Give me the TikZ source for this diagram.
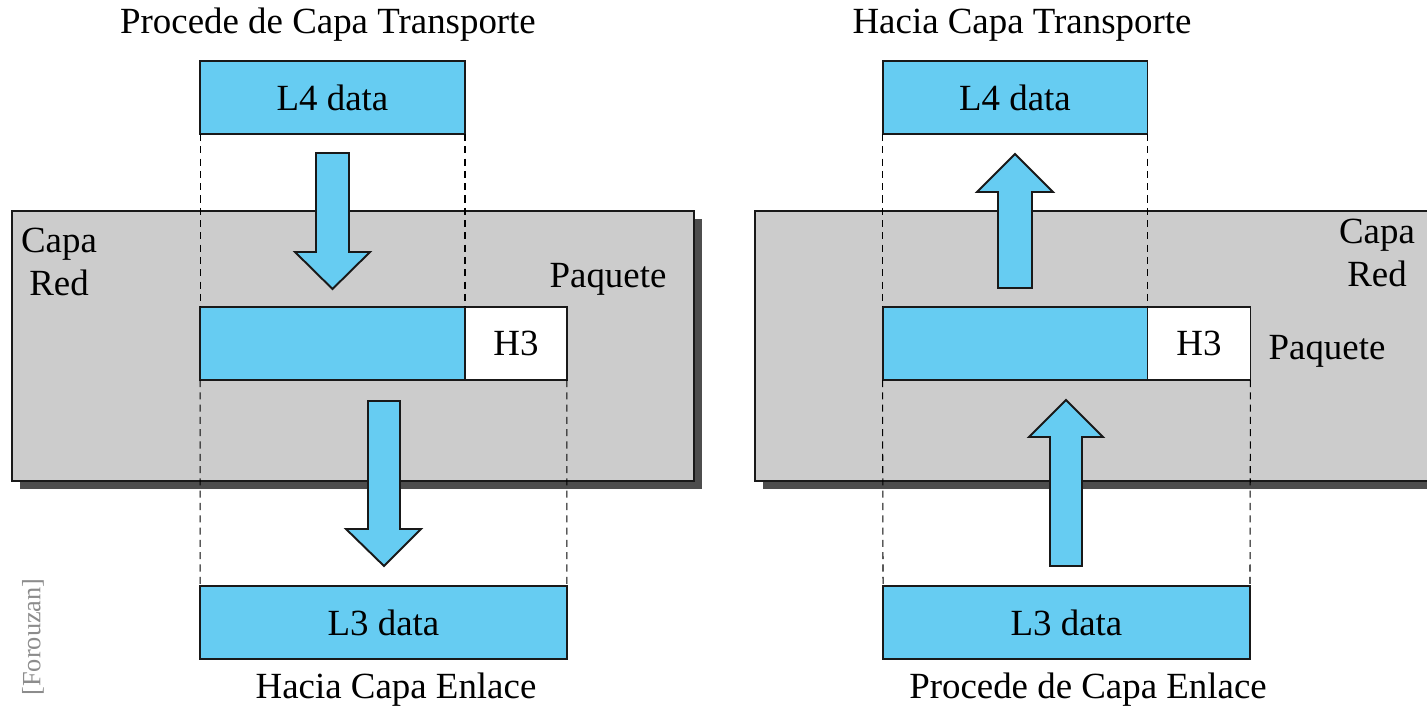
\documentclass[tikz,border=0pt]{standalone}
\usepackage{fontspec}
\setmainfont{Liberation Serif}
\usetikzlibrary{positioning}
\definecolor{pblue}{HTML}{66CCF2}
\definecolor{pgray}{HTML}{CCCCCC}
\definecolor{pshadow}{HTML}{4D4D4D}
\newcommand{\ptext}{\fontsize{21}{25}\selectfont}
\tikzset{
  pdata/.style={draw=black!90, fill=pblue, line width=1.1pt, minimum height=1.46cm,
                inner sep=0pt, outer sep=0pt, font=\ptext},
  phead/.style={pdata, fill=white},
  player/.style={fill=pgray, draw=black!90, line width=1.1pt},
  pshade/.style={fill=pshadow},
  pguide/.style={dash pattern=on 4pt off 3pt, line width=0.6pt},
  pflecha/.style={fill=pblue, draw=black!90, line width=1.1pt, line join=miter},
  ptxt/.style={font=\ptext, inner sep=0pt, align=center},
}

\begin{document}
\begin{tikzpicture}[x=0.02cm, y=-0.02cm]
  \useasboundingbox (0,0) rectangle (1427,710);

  % capa de red (con sombra)
  \fill[pshade] (20,219) rectangle (702,489);
  \draw[player] (12,211) rectangle (694,481);
  \fill[pshade] (763,219) rectangle (1427,489);
  \draw[player] (755,211) rectangle (1440,481);

  % emisor: lado izquierdo
  \node[pdata, minimum width=5.3cm] (l4L) at (332.5,97.5) {L4 data};
  \node[pdata, minimum width=5.3cm] (pktL) at (332.5,343.5) {};
  \node[phead, minimum width=2.04cm, right=0pt of pktL] (h3L) {H3};
  \node[pdata, minimum width=7.34cm] (l3L) at (383.5,622.5) {L3 data};

  % receptor: lado derecho
  \node[pdata, minimum width=5.3cm] (l4R) at (1015,97.5) {L4 data};
  \node[pdata, minimum width=5.3cm] (pktR) at (1015,343.5) {};
  \node[phead, minimum width=2.06cm, right=0pt of pktR] (h3R) {H3};
  \node[pdata, minimum width=7.34cm] (l3R) at (1066.5,622.5) {L3 data};

  % guias tracejadas
  \draw[pguide] (l4L.south west) -- (pktL.north west);
  \draw[pguide] (l4L.south east) -- (pktL.north east);
  \draw[pguide] (pktL.south west) -- (l3L.north west);
  \draw[pguide] (h3L.south east) -- (l3L.north east);
  \draw[pguide] (l4R.south west) -- (pktR.north west);
  \draw[pguide] (l4R.south east) -- (pktR.north east);
  \draw[pguide] (pktR.south west) -- (l3R.north west);
  \draw[pguide] (h3R.south east) -- (l3R.north east);

  % flechas de bloque
  \draw[pflecha] (316,153) -- (349,153) -- (349,252) -- (370,252) -- (332.5,289)
    -- (295,252) -- (316,252) -- cycle;
  \draw[pflecha] (368,401) -- (400,401) -- (400,529) -- (421,529) -- (384,566)
    -- (346,529) -- (368,529) -- cycle;
  \draw[pflecha] (998,288) -- (1032,288) -- (1032,192) -- (1053,192) -- (1015,154)
    -- (977,192) -- (998,192) -- cycle;
  \draw[pflecha] (1050,566) -- (1082,566) -- (1082,437) -- (1103,437) -- (1066,400)
    -- (1029,437) -- (1050,437) -- cycle;

  % textos
  \node[ptxt] (srcL) at (328,25) {Procede de Capa Transporte};
  \node[ptxt] (dstL) at (396,690) {Hacia Capa Enlace};
  \node[ptxt] (capaL) at (59,262) {Capa\\Red};
  \node[ptxt] (paqL) at (608,279) {Paquete};
  \node[ptxt] (dstR) at (1022,25) {Hacia Capa Transporte};
  \node[ptxt] (srcR) at (1088,690) {Procede de Capa Enlace};
  \node[ptxt] (capaR) at (1377,253) {Capa\\Red};
  \node[ptxt] (paqR) at (1327,351) {Paquete};
  \node[ptxt, font=\fontsize{15}{18}\selectfont, text=black!45, rotate=90]
    (fuente) at (33,637) {[Forouzan]};

\end{tikzpicture}
\end{document}
